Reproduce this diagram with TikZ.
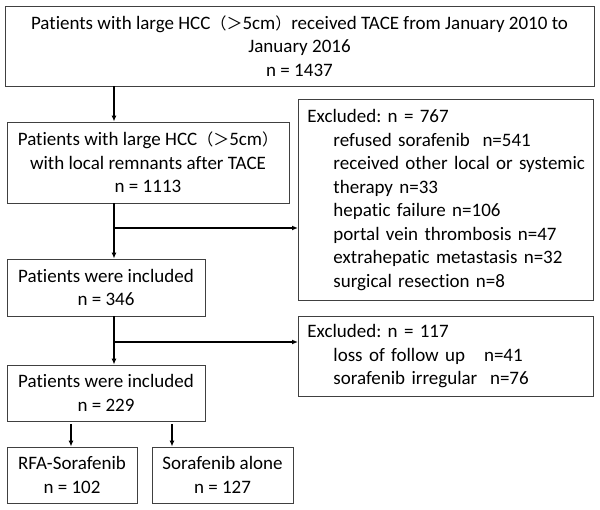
\documentclass[tikz,border=0pt]{standalone}
\usepackage{fontspec}
\setmainfont[Ligatures=NoCommon]{Carlito}
\newfontfamily\cjk{Noto Sans CJK SC}
\usetikzlibrary{arrows.meta}
\frenchspacing
\tikzstyle{box}=[draw=black!75, line width=0.9pt, inner sep=0pt, align=center,
    font=\fontsize{19}{23.5}\selectfont]
\tikzstyle{exclbox}=[box, anchor=north west, align=left, text width=277pt, inner xsep=9pt]
\newcommand{\flowbox}{\node[box]}
\newcommand{\sizecut}{{\cjk\fontsize{16}{23.5}\selectfont （＞}5cm{\cjk\fontsize{16}{23.5}\selectfont ）}}
\newcommand{\reasonindent}{\hspace*{26pt}}

\begin{document}
\begin{tikzpicture}[x=1pt, y=-1pt
    ,every edge/.style={draw, line width=1.4pt, -{Latex[length=6pt,width=5pt]}}
]
\useasboundingbox (0,0) rectangle (600,510);
\flowbox[minimum width=589pt, minimum height=80pt] (total) at (299.5,46)
    {Patients with large HCC\sizecut received TACE from January 2010 to\\January 2016\\n = 1437};
\flowbox[minimum width=282pt, minimum height=81pt] (remnant) at (148,162.5)
    {Patients with large HCC\sizecut\\with local remnants after TACE\\n = 1113};
\flowbox[minimum width=198pt, minimum height=57pt] (included) at (106,287.5)
    {Patients were included\\n = 346};
\flowbox[minimum width=198pt, minimum height=56pt] (final) at (106,393)
    {Patients were included\\n = 229};
\flowbox[minimum width=130pt, minimum height=56pt] (rfa) at (72,475)
    {RFA-Sorafenib\\n = 102};
\flowbox[minimum width=141pt, minimum height=56pt] (alone) at (222.5,475)
    {Sorafenib alone\\n = 127};
\node[exclbox, minimum height=201pt] (excl1) at (298,99)
    {Excluded: n = 767\\
     \reasonindent refused sorafenib\ \ n=541\\
     \reasonindent \mbox{received other local or systemic}\\
     \reasonindent therapy n=33\\
     \reasonindent hepatic failure n=106\\
     \reasonindent portal vein thrombosis n=47\\
     \reasonindent extrahepatic metastasis n=32\\
     \reasonindent surgical resection n=8};
\node[exclbox, minimum height=80pt] (excl2) at (298,316)
    {Excluded: n = 117\\
     \reasonindent loss of follow up\ \ \ n=41\\
     \reasonindent sorafenib irregular\ \ n=76};
% trunk and split points
\coordinate (trunk) at (114,0);
\coordinate (split1) at (114,228);
\coordinate (split2) at (114,342);
\coordinate (left) at (71,0);
\coordinate (right) at (172,0);
\path
(total.south -| trunk) edge (remnant.north -| trunk)
(remnant.south -| trunk) edge (included.north -| trunk)
(split1) edge (split1 -| excl1.west)
(included.south -| trunk) edge (final.north -| trunk)
(split2) edge (split2 -| excl2.west)
([yshift=-3pt]final.south -| left) edge (rfa.north -| left)
([yshift=-3pt]final.south -| right) edge (alone.north -| right)
;
\end{tikzpicture}
\end{document}
